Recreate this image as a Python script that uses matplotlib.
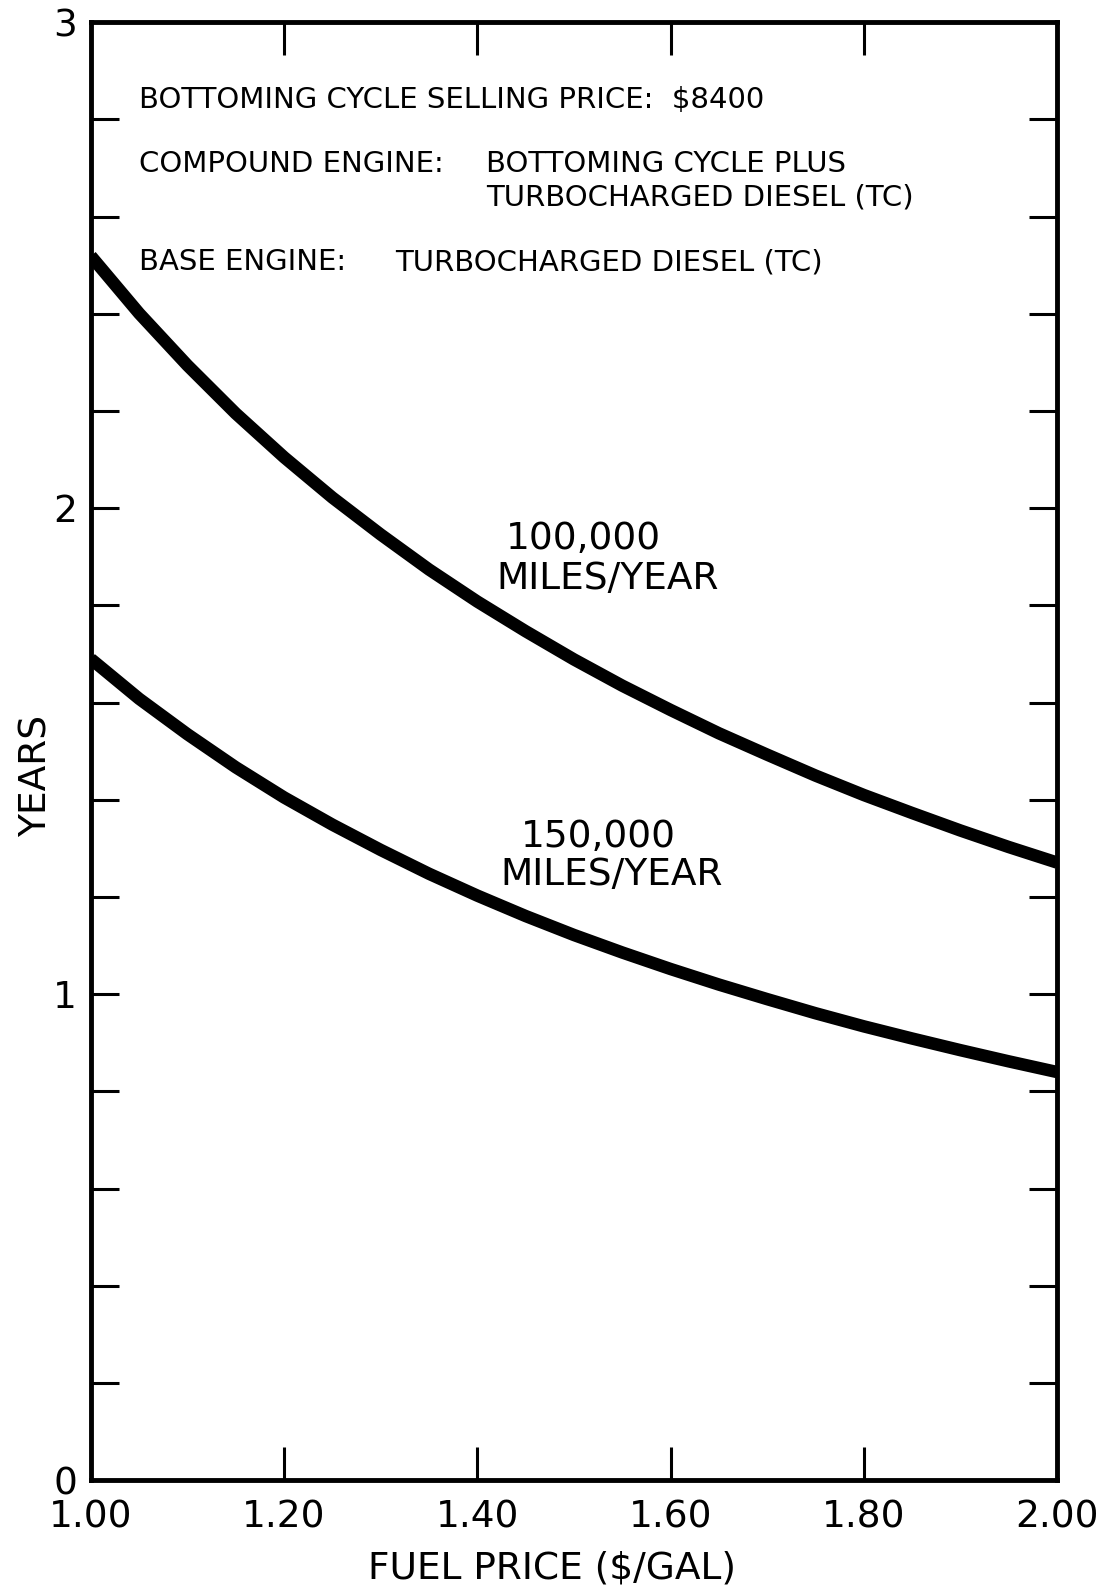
import matplotlib.pyplot as plt

# fuel price ($/gal) and payback years
fuel_price = [1.0, 1.05, 1.1, 1.15, 1.2, 1.25, 1.3, 1.35, 1.4, 1.45, 1.5,
              1.55, 1.6, 1.65, 1.7, 1.75, 1.8, 1.85, 1.9, 1.95, 2.0]
years_100k = [2.519, 2.401, 2.294, 2.195, 2.105, 2.022, 1.946, 1.874, 1.808, 1.747, 1.689,
              1.635, 1.585, 1.537, 1.493, 1.450, 1.410, 1.373, 1.337, 1.303, 1.271]
years_150k = [1.690, 1.608, 1.535, 1.467, 1.405, 1.349, 1.297, 1.248, 1.203, 1.161, 1.122,
              1.086, 1.052, 1.020, 0.990, 0.961, 0.934, 0.909, 0.885, 0.862, 0.840]

xticks = [1.0, 1.2, 1.4, 1.6, 1.8, 2.0]
xlabels = ["1.00", "1.20", "1.40", "1.60", "1.80", "2.00"]
yticks_major = [0, 1, 2, 3]

plt.rcParams['font.family'] = ['DejaVu Sans']

fig = plt.figure(figsize=(11.08, 15.90), dpi=100)
ax = fig.add_axes([0.082, 0.069, 0.872, 0.917])

ax.plot(fuel_price, years_100k, color="black", lw=9, solid_joinstyle="round", solid_capstyle="butt")
ax.plot(fuel_price, years_150k, color="black", lw=9, solid_joinstyle="round", solid_capstyle="butt")

ax.set_xlim(1.0, 2.0)
ax.set_ylim(0, 3)
ax.set_xticks(xticks)
ax.set_xticklabels(xlabels, fontsize=27)
ax.set_yticks(yticks_major)
ax.set_yticklabels([str(v) for v in yticks_major], fontsize=27)
ax.set_yticks([i * 0.2 for i in range(16)], minor=True)
ax.tick_params(which="both", direction="in", top=True, right=True, width=2.2, color="black")
ax.tick_params(which="major", axis="x", length=24, pad=14)
ax.tick_params(which="both", axis="y", length=20, pad=10)
for s in ax.spines.values():
    s.set_linewidth(3.5)

ax.set_xlabel("FUEL PRICE ($/GAL)", fontsize=27)
ax.xaxis.set_label_coords(0.477, -0.048)
ax.set_ylabel("YEARS", fontsize=27)
ax.yaxis.set_label_coords(-0.038, 0.483)

tkw = dict(fontsize=21, va="center", ha="left")
ax.text(1.05, 2.84, "BOTTOMING CYCLE SELLING PRICE:  $8400", **tkw)
ax.text(1.05, 2.708, "COMPOUND ENGINE:", **tkw)
ax.text(1.409, 2.708, "BOTTOMING CYCLE PLUS", **tkw)
ax.text(1.409, 2.64, "TURBOCHARGED DIESEL (TC)", **tkw)
ax.text(1.05, 2.506, "BASE ENGINE:", **tkw)
ax.text(1.315, 2.506, "TURBOCHARGED DIESEL (TC)", **tkw)

lkw = dict(fontsize=27, va="center", ha="center")
ax.text(1.5095, 1.9375, "100,000", **lkw)
ax.text(1.535, 1.854, "MILES/YEAR", **lkw)
ax.text(1.525, 1.323, "150,000", **lkw)
ax.text(1.539, 1.246, "MILES/YEAR", **lkw)

fig.savefig("out.png", dpi=100)
